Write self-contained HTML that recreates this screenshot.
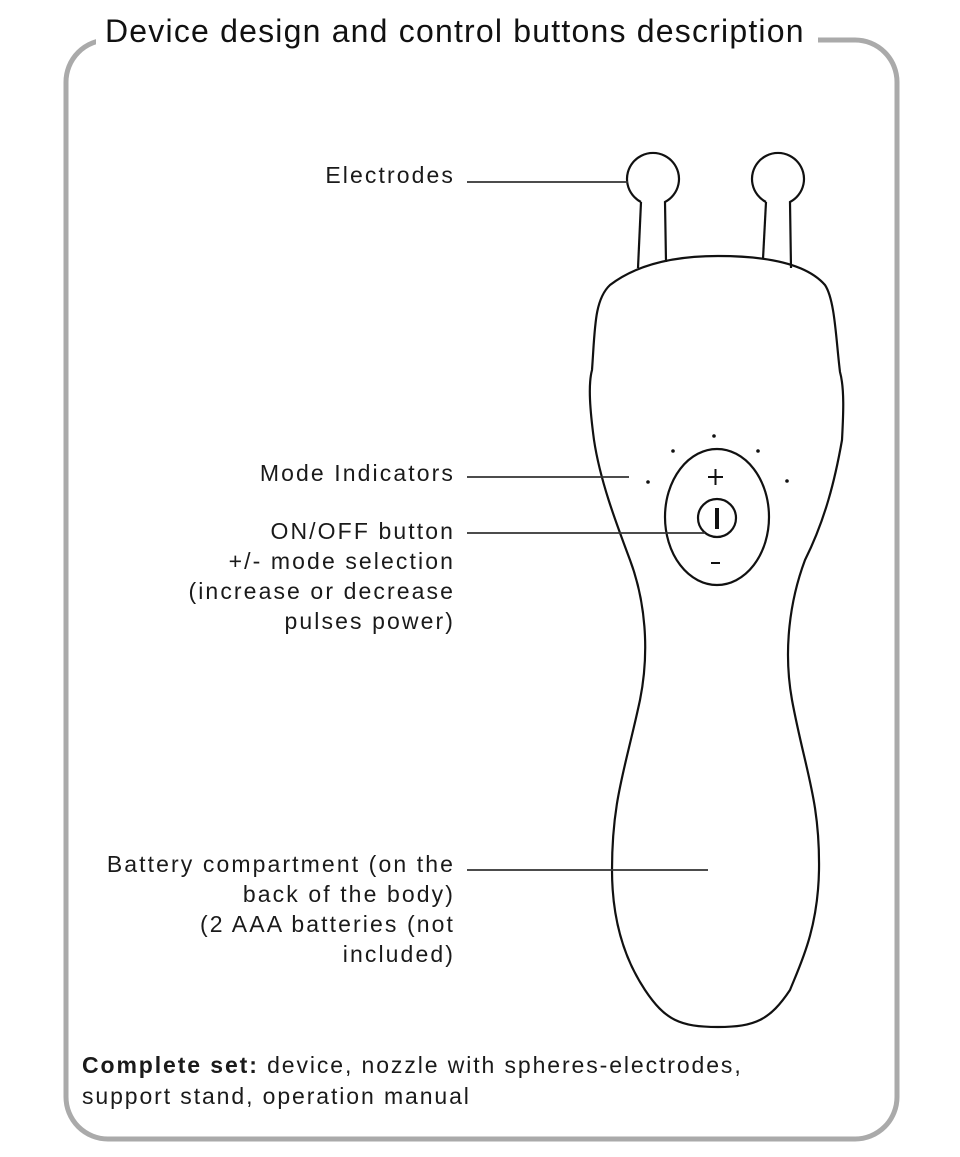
<!DOCTYPE html>
<html><head><meta charset="utf-8"><style>
body{margin:0;background:#fff;width:960px;height:1157px;overflow:hidden;position:relative;font-family:"Liberation Sans","DejaVu Sans",sans-serif;color:#1a1a1a}
.t{position:absolute;font-size:23px;line-height:30px;text-align:right;right:505px;white-space:nowrap;letter-spacing:2.1px}
</style></head><body>
<svg width="960" height="1157" style="position:absolute;left:0;top:0">
<rect x="66" y="40" width="831" height="1099" rx="42" fill="none" stroke="#aaa" stroke-width="5"/>
<rect x="96" y="10" width="722" height="50" fill="#fff"/>
<g fill="none" stroke="#111" stroke-width="2.2">
<path d="M641,202 A26,26 0 1 1 665,202 L666,262"/><path d="M641,202 L638,268"/>
<path d="M766,202 A26,26 0 1 1 790,202 L791,268"/><path d="M766,202 L763,259"/>
<path d="M718,1027 C680,1027 665,1020 645,990 C625,960 612,920 612,870 C612,800 625,770 640,700 C650,650 645,600 630,560 C615,520 600,480 594,440 C590,410 588,385 592,370 C595,330 594,300 610,285 C640,262 680,256 718,256 C760,256 805,262 825,285 C835,300 836,340 840,372 C845,390 843,420 842,440 C835,480 825,520 805,560 C790,600 783,650 792,700 C805,770 820,800 819,870 C818,930 800,965 790,990 C770,1020 755,1027 718,1027 Z"/>
<ellipse cx="717" cy="517" rx="52" ry="68"/>
<circle cx="717" cy="518" r="19"/>
</g>
<line x1="717" y1="508" x2="717" y2="529" stroke="#111" stroke-width="4"/>
<path d="M708,477h15M715.5,469v16M711,563h9" stroke="#111" stroke-width="2"/>
<g fill="#111"><circle cx="714" cy="436" r="1.8"/><circle cx="673" cy="451" r="1.8"/><circle cx="758" cy="451" r="1.8"/><circle cx="648" cy="482" r="1.8"/><circle cx="787" cy="481" r="1.8"/></g>
<g stroke="#333" stroke-width="1.8">
<line x1="467" y1="182" x2="628" y2="182"/>
<line x1="467" y1="477" x2="629" y2="477"/>
<line x1="467" y1="533" x2="705" y2="533"/>
<line x1="467" y1="870" x2="708" y2="870"/>
</g>
</svg>
<div style="position:absolute;left:105px;top:11px;font-size:32px;line-height:40px;color:#111;letter-spacing:1.2px;white-space:nowrap">Device design and control buttons description</div>
<div class="t" style="top:160px">Electrodes</div>
<div class="t" style="top:458px">Mode Indicators</div>
<div class="t" style="top:516px">ON/OFF button<br>+/- mode selection<br>(increase or decrease<br>pulses power)</div>
<div class="t" style="top:849px">Battery compartment (on the<br>back of the body)<br>(2 AAA batteries (not<br>included)</div>
<div style="position:absolute;left:82px;top:1050px;font-size:23px;line-height:31px;letter-spacing:1.9px;white-space:nowrap"><b>Complete set:</b> device, nozzle with spheres-electrodes,<br>support stand, operation manual</div>
</body></html>
